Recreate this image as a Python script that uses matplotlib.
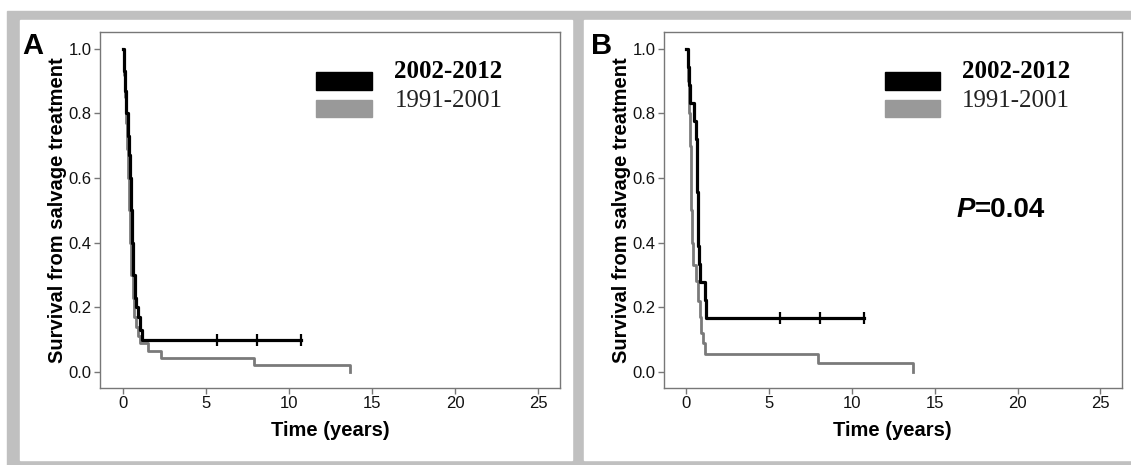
import matplotlib.pyplot as plt
from matplotlib.patches import Rectangle

plt.rcParams['font.family'] = ['Liberation Sans', 'DejaVu Sans']

# Kaplan-Meier steps (time in years, survival)
tA_new = [0, 0.05, 0.12, 0.2, 0.28, 0.36, 0.43, 0.5, 0.56, 0.62, 0.7, 0.8, 0.9, 1.0, 1.17, 10.7]
sA_new = [1.0, 0.93, 0.87, 0.80, 0.73, 0.67, 0.60, 0.50, 0.40, 0.30, 0.23, 0.20, 0.17, 0.13, 0.10, 0.10]
tA_old = [0, 0.04, 0.1, 0.17, 0.24, 0.31, 0.38, 0.44, 0.5, 0.58, 0.68, 0.78, 0.9, 1.03, 1.53, 2.3, 7.9, 13.64]
sA_old = [1.0, 0.92, 0.85, 0.77, 0.69, 0.60, 0.50, 0.40, 0.30, 0.23, 0.17, 0.14, 0.11, 0.089, 0.063, 0.042, 0.021, 0.0]
censA = [5.65, 8.05, 10.7]

tB_new = [0, 0.1, 0.15, 0.2, 0.48, 0.6, 0.62, 0.64, 0.66, 0.68, 0.7, 0.72, 0.78, 0.82, 1.1, 1.2, 10.7]
sB_new = [1.0, 0.944, 0.889, 0.833, 0.778, 0.722, 0.667, 0.611, 0.556, 0.5, 0.444, 0.389, 0.333, 0.278, 0.222, 0.167, 0.167]
tB_old = [0, 0.08, 0.14, 0.2, 0.25, 0.3, 0.34, 0.37, 0.6, 0.7, 0.8, 0.9, 1.0, 1.1, 7.92, 13.68]
sB_old = [1.0, 0.90, 0.80, 0.70, 0.60, 0.50, 0.40, 0.33, 0.28, 0.22, 0.17, 0.12, 0.09, 0.056, 0.028, 0.0]
censB = [5.65, 8.07, 10.7]

labels = ['2002-2012', '1991-2001']
xticks = [0, 5, 10, 15, 20, 25]
yticks = [0.0, 0.2, 0.4, 0.6, 0.8, 1.0]

W, H = 1131, 465
fig = plt.figure(figsize=(W / 100, H / 100), dpi=100)

# grey frame around the two panels (pixel boxes from top-left)
def box(x0, y0, x1, y1, col):
    fig.patches.append(Rectangle((x0 / W, 1 - y1 / H), (x1 - x0) / W, (y1 - y0) / H,
                                 transform=fig.transFigure, color=col, zorder=-10))

box(7, 11, W, H, '#c0c0c0')
box(20, 20, 572, 460, 'white')
box(584, 20, W, 460, 'white')

def panel(rect, t_new, s_new, t_old, s_old, cens, leg_x, txt_x):
    ax = fig.add_axes(rect)
    ax.step(t_old, s_old, where='post', color='#7a7a7a', lw=2.0, zorder=2)
    ax.step(t_new, s_new, where='post', color='black', lw=2.3, zorder=3)
    ax.plot(cens, [s_new[-1]] * len(cens), ls='none', marker='|', ms=9, mew=1.6, color='black', zorder=4)
    ax.set_xlim(-1.38, 26.3)
    ax.set_ylim(-0.05, 1.052)
    ax.set_xticks(xticks)
    ax.set_yticks(yticks)
    ax.set_yticklabels(['%.1f' % v for v in yticks])
    for sp in ax.spines.values():
        sp.set_color('#777777')
        sp.set_linewidth(1)
    ax.tick_params(direction='out', length=4, width=1, color='#777777',
                   labelsize=12, labelcolor='#111111', pad=2)
    ax.set_xlabel('Time (years)', fontsize=14.5, fontweight='bold', labelpad=7)
    ax.set_ylabel('Survival from salvage treatment', fontsize=14.5, fontweight='bold', labelpad=1)
    # hand-drawn legend
    ax.add_patch(Rectangle((leg_x, 0.837), 0.121, 0.051, transform=ax.transAxes, color='black'))
    ax.add_patch(Rectangle((leg_x, 0.761), 0.121, 0.048, transform=ax.transAxes, color='#999999'))
    ax.text(txt_x, 0.89, labels[0], transform=ax.transAxes, family='Liberation Serif',
            fontsize=18, fontweight='bold', va='center')
    ax.text(txt_x, 0.806, labels[1], transform=ax.transAxes, family='Liberation Serif',
            fontsize=18, color='#222222', va='center')
    return ax

axA = panel([100 / W, 1 - 388 / H, 460 / W, 356 / H], tA_new, sA_new, tA_old, sA_old, censA, 0.47, 0.64)
axB = panel([663.6 / W, 1 - 388 / H, 458.4 / W, 356 / H], tB_new, sB_new, tB_old, sB_old, censB, 0.482, 0.65)

fig.text(22 / W, 1 - 54 / H, 'A', fontsize=21, fontweight='bold', va='baseline')
fig.text(591 / W, 1 - 54 / H, 'B', fontsize=21, fontweight='bold', va='baseline')

p = axB.text(0.638, 0.5, 'P', transform=axB.transAxes, fontsize=20, fontweight='bold',
             style='italic', va='center')
axB.annotate('=0.04', xy=(1, 0), xycoords=p, fontsize=20, fontweight='bold', va='bottom')

plt.savefig('out.png', dpi=100)
